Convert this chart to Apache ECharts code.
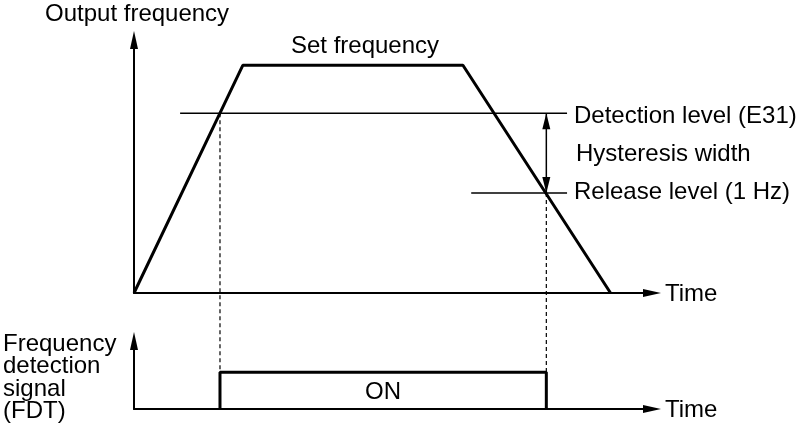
<!DOCTYPE html>
<html>
<head>
<meta charset="utf-8">
<script src="https://cdn.jsdelivr.net/npm/echarts@6/dist/echarts.min.js"></script>
<style>
  html, body { margin: 0; padding: 0; background: #fff; }
  #main { width: 798px; height: 427px; }
</style>
</head>
<body>
<div id="main"></div>
<script>
// output frequency profile (time units 0..100, frequency units 0..100)
var outTime = [0, 21, 63.5, 92];
var outFreq = [0, 90, 90, 0];
// detection / release levels and how far their guide lines run
var detectLevel = 71;
var releaseLevel = 39.5;
var detectSpan = [8.9, 83.6];
var releaseSpan = [65.1, 83.6];
// FDT switches on / off where the ramp crosses the levels
var fdtTimes = [16.6, 79.6];
var fdtOnLevel = 5.4;

var chartDom = document.getElementById('main');
var myChart = echarts.init(chartDom);
var font = "'Liberation Sans', Arial, sans-serif";
var black = '#000';

function axisX(idx) {
  return {
    gridIndex: idx, type: 'value', min: 0, max: 100,
    axisLine: { show: true, onZero: false, symbol: ['none', 'triangle'], symbolSize: [8, 18],
      lineStyle: { color: black, width: 2 } },
    axisTick: { show: false }, axisLabel: { show: false }, splitLine: { show: false }
  };
}
function axisY(idx, max) {
  return {
    gridIndex: idx, type: 'value', min: 0, max: max,
    axisLine: { show: true, onZero: false, symbol: ['none', 'triangle'], symbolSize: [8, 18],
      lineStyle: { color: black, width: 2 } },
    axisTick: { show: false }, axisLabel: { show: false }, splitLine: { show: false }
  };
}
function txt(text, x, y, align) {
  return {
    type: 'text', x: x, y: y, silent: true,
    style: { text: text, fill: black, font: '24px ' + font, textAlign: align || 'left', textVerticalAlign: 'middle' }
  };
}

var profile = outTime.map(function (t, i) { return [t, outFreq[i]]; });
var fdt = [[fdtTimes[0], 0], [fdtTimes[0], fdtOnLevel], [fdtTimes[1], fdtOnLevel], [fdtTimes[1], 0]];
// double arrow for the hysteresis width, tips resting on the two levels
var hyst = [
  { value: [fdtTimes[1], detectLevel], symbol: 'triangle', symbolRotate: 0, symbolOffset: [0, 8] },
  { value: [fdtTimes[1], releaseLevel], symbol: 'triangle', symbolRotate: 180, symbolOffset: [0, -8] }
];

function lineSeries(id, data, width, type, xi) {
  return {
    id: id, type: 'line', xAxisIndex: xi, yAxisIndex: xi, data: data,
    symbol: 'none', clip: false, silent: true, animation: false,
    lineStyle: { color: black, width: width, type: type || 'solid' }
  };
}

var option = {
  animation: false,
  backgroundColor: '#fff',
  grid: [
    { left: 134, top: 40, width: 518, height: 253 },
    { left: 134, top: 341, width: 518, height: 68 }
  ],
  xAxis: [axisX(0), axisX(1)],
  yAxis: [axisY(0, 100), axisY(1, 10)],
  series: [
    lineSeries('profile', profile, 3, 'solid', 0),
    lineSeries('detect', [[detectSpan[0], detectLevel], [detectSpan[1], detectLevel]], 1.5, 'solid', 0),
    lineSeries('release', [[releaseSpan[0], releaseLevel], [releaseSpan[1], releaseLevel]], 1.5, 'solid', 0),
    Object.assign(lineSeries('hyst', hyst, 1.5, 'solid', 0), {
      symbolSize: [8, 16], showSymbol: true, showAllSymbol: true,
      itemStyle: { color: black, borderWidth: 0 }
    }),
    lineSeries('dashOn', [], 1.2, [4, 3], 0),
    lineSeries('dashOff', [], 1.2, [4, 3], 0),
    lineSeries('fdt', fdt, 3, 'solid', 1)
  ],
  graphic: [
    txt('Output frequency', 45, 14),
    txt('Set frequency', 365, 46, 'center'),
    txt('Detection level (E31)', 574, 116),
    txt('Hysteresis width', 576, 154),
    txt('Release level (1 Hz)', 574, 192),
    txt('Time', 665, 294),
    txt('Time', 665, 410),
    txt('Frequency', 3, 344),
    txt('detection', 3, 366),
    txt('signal', 3, 389),
    txt('(FDT)', 3, 411),
    txt('ON', 383, 392, 'center')
  ]
};

option && myChart.setOption(option);

// dashed guides drop from the level crossings to the top of the FDT pulse
var onPx = myChart.convertToPixel({ gridIndex: 1 }, [0, fdtOnLevel])[1];
var onInTop = myChart.convertFromPixel({ gridIndex: 0 }, [0, onPx])[1];
myChart.setOption({
  series: [
    { id: 'dashOn', data: [[fdtTimes[0], detectLevel], [fdtTimes[0], onInTop]] },
    { id: 'dashOff', data: [[fdtTimes[1], releaseLevel], [fdtTimes[1], onInTop]] }
  ]
});
</script>
</body>
</html>
